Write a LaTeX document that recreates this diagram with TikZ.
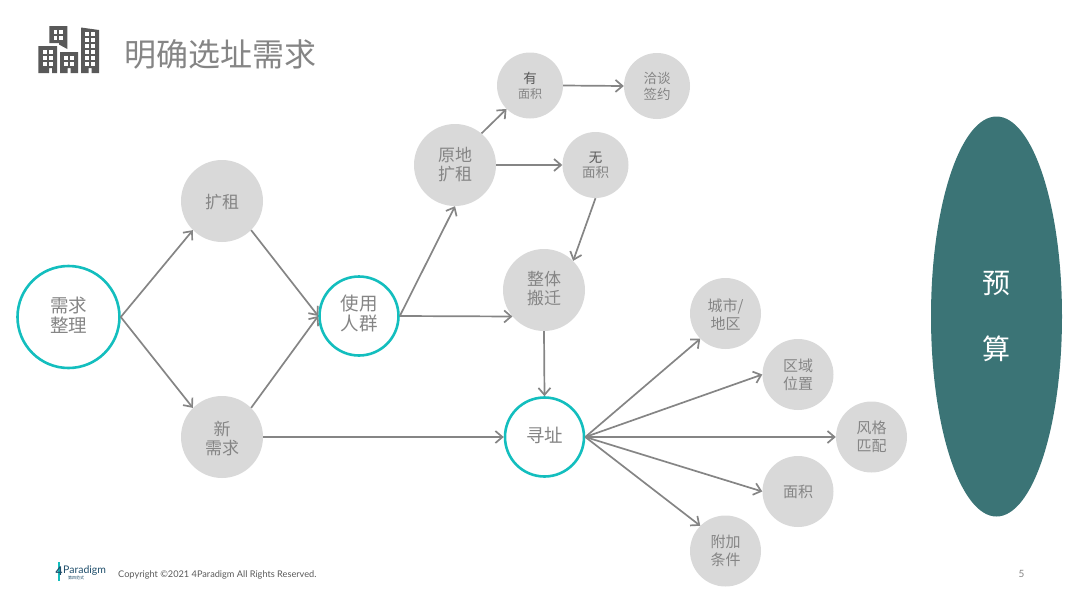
\documentclass[tikz,border=0pt]{standalone}
\usepackage{fontspec}
\setmainfont{Noto Sans CJK SC}
\newfontfamily\latinfont{Lato}
\usetikzlibrary{arrows.meta,shapes.geometric}
\definecolor{txtgray}{HTML}{858585}
\definecolor{circfill}{HTML}{D9D9D9}
\definecolor{tealring}{HTML}{13BEBE}
\definecolor{linegray}{HTML}{858585}
\definecolor{budget}{HTML}{3B7476}
\definecolor{icongray}{HTML}{595959}
\definecolor{logoblue}{HTML}{1F4E6B}
\newcommand{\tshift}[2]{\raisebox{#1}[\height][\depth]{\vbox{\lineskiplimit=-100pt\relax\halign{\hfil##\hfil\cr #2\cr}}}}
\tikzset{
  x=1pt,y=-1pt,
  base/.style={circle,inner sep=0pt,align=center,text=txtgray},
  grayA/.style={base,fill=circfill,minimum size=82pt,font=\fontsize{17}{19}\selectfont},
  grayB/.style={base,fill=circfill,minimum size=66pt,font=\fontsize{13.5}{16}\selectfont},
  grayC/.style={base,fill=circfill,minimum size=71pt,font=\fontsize{15}{18}\selectfont},
  ring/.style={base,draw=tealring,line width=2.6pt,fill=white,font=\fontsize{18.5}{19.5}\selectfont},
  conn/.style={draw=linegray,line width=1.7pt,-{Straight Barb[length=7pt,width=12pt,line width=1.7pt]}},
  win/.style={fill=white,draw=none},
}
\begin{document}
\begin{tikzpicture}
\useasboundingbox (0,0) rectangle (1080,606);
% icon
\fill[icongray] (38.3,73) -- (38.3,46) -- (57,46) -- (57,73) -- (52,73) -- (52,68) -- (49,68) -- (49,73) -- cycle;
\fill[icongray] (49.3,26) -- (67.3,26) -- (67.3,49) -- (59,44.5) -- (59,43) -- (49.3,43) -- cycle;
\fill[icongray] (60,73) -- (60,52) -- (78,52) -- (78,73) -- (70.5,73) -- (70.5,68) -- (67.5,68) -- (67.5,73) -- cycle;
\fill[icongray] (81,27.5) -- (99,30) -- (99,73) -- (91.5,73) -- (91.5,68) -- (88.5,68) -- (88.5,73) -- (81,73) -- cycle;
\foreach \cx in {45,51} \foreach \cy in {52,58,64} \fill[win] (\cx-1.6,\cy-1.6) rectangle ++(3.2,3.2);
\foreach \cx in {55.5,61} \foreach \cy in {32,38} \fill[win] (\cx-1.6,\cy-1.6) rectangle ++(3.2,3.2);
\foreach \cx in {66,72} \foreach \cy in {58,64} \fill[win] (\cx-1.6,\cy-1.6) rectangle ++(3.2,3.2);
\foreach \cx in {87,93} \foreach \cy in {34,40,46,52,58,64} \fill[win] (\cx-1.6,\cy-1.6) rectangle ++(3.2,3.2);
% title
\node[inner sep=0pt,text=txtgray,font=\fontsize{32}{34}\selectfont] (title) at (220.5,54.5) {明确选址需求};
% budget
\node[ellipse,fill=budget,minimum width=131pt,minimum height=400pt,inner sep=0pt] (budgetshape) at (996.5,316.5) {};
\node[text=white,inner sep=0pt,font=\fontsize{28}{30}\selectfont] (yu) at (996.5,283.5) {预};
\node[text=white,inner sep=0pt,font=\fontsize{28}{30}\selectfont] (suan) at (996.5,348.5) {算};
% nodes
\node[ring,minimum size=102pt] (need) at (68.5,317) {\tshift{2pt}{需求\cr 整理}};
\node[grayA] (kz) at (222,201) {\tshift{-1pt}{扩租}};
\node[grayA] (xq) at (222,437) {\tshift{-2pt}{新\cr 需求}};
\node[ring,minimum size=79pt] (user) at (359,316) {\tshift{2.5pt}{使用\cr 人群}};
\node[grayA] (yd) at (455,165) {原地\\扩租};
\node[grayB] (you) at (530,85.5) {\textcolor{black!65}{有}\\[-1pt]{\fontsize{12}{14}\selectfont 面积}};
\node[grayB] (qt) at (657,86) {洽谈\\签约};
\node[grayB] (wu) at (595.5,165) {\textcolor{black!65}{无}\\[-1pt]面积};
\node[grayA] (zt) at (544,290) {\tshift{1pt}{整体\cr 搬迁}};
\node[ring,minimum size=79pt] (xz) at (544.5,437) {\tshift{2pt}{寻址}};
\node[grayC] (cs) at (725.5,313.5) {\tshift{-1pt}{城市/\cr 地区}};
\node[grayC] (qy) at (798,374.5) {区域\\位置};
\node[grayC] (fg) at (871.5,437) {风格\\匹配};
\node[grayC] (mj) at (798,491.5) {面积};
\node[grayC] (fj) at (725.5,551) {附加\\条件};
% connectors
\draw[conn] (need.east) -- (kz.225);
\draw[conn] (need.east) -- (xq.135);
\draw[conn] (kz.315) -- (user.west);
\draw[conn] (xq.45) -- (user.west);
\draw[conn] (user.east) -- (yd.south);
\draw[conn] (user.east) -- (zt.220);
\draw[conn] (yd.50) -- (you.225);
\draw[conn] (yd.east) -- (wu.west);
\draw[conn] (you.east) -- (qt.west);
\draw[conn] (wu.south) -- (zt.45);
\draw[conn] (zt.south) -- (xz.north);
\draw[conn] (xq.east) -- (xz.west);
\draw[conn] (xz.east) -- (cs.225);
\draw[conn] (xz.east) -- (qy.west);
\draw[conn] (xz.east) -- (fg.west);
\draw[conn] (xz.east) -- (mj.west);
\draw[conn] (xz.east) -- (fj.135);
% footer logo
\draw[tealring,line width=1.3pt] (59,562) -- (59,581);
\node[inner sep=0pt,text=logoblue,font=\latinfont\bfseries\fontsize{12}{12}\selectfont] (logo4) at (59,571) {4};
\node[inner sep=0pt,anchor=west,text=logoblue,font=\latinfont\fontsize{10.5}{12}\selectfont] (logo) at (63,571) {Paradigm};
\node[inner sep=0pt,text=logoblue,font=\fontsize{4}{5}\selectfont] (logocn) at (76,578) {第四范式};
\node[inner sep=0pt,anchor=west,text=black!65,font=\latinfont\fontsize{9.2}{11}\selectfont] (copy) at (118,574.5) {Copyright ©2021 4Paradigm All Rights Reserved.};
\node[inner sep=0pt,text=txtgray,font=\latinfont\fontsize{10}{11}\selectfont] (page) at (1021.5,574) {5};
\end{tikzpicture}
\end{document}
